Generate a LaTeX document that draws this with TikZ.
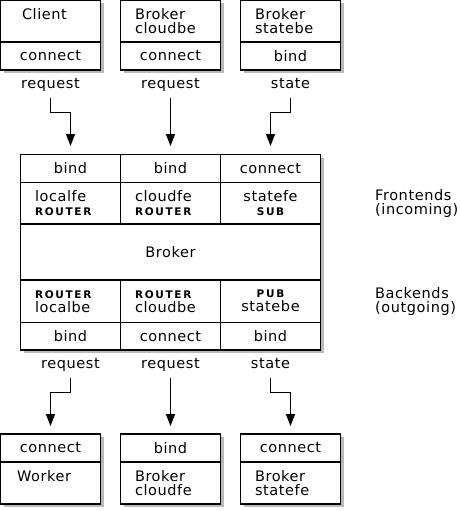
\documentclass[tikz,border=0pt]{standalone}
\usepackage{fontspec}
\setmainfont{DejaVu Sans}[LetterSpace=4]
\newfontfamily\capsfont{DejaVu Sans}[LetterSpace=16]
\usetikzlibrary{positioning,arrows.meta,shadows}

\newcommand{\socktype}[1]{{\capsfont\bfseries\fontsize{10.5}{14}\selectfont #1}}

\tikzset{
    cell/.style={draw, fill=white, line width=1.3pt, inner sep=0pt, outer sep=0pt,
        minimum width=100pt, align=left, text width=71pt,
        drop shadow={shadow xshift=3pt, shadow yshift=-3pt, fill=black!45, opacity=.6}},
    sockcell/.style={cell, align=center},
    msg/.style={inner sep=0pt, text height=10pt, text depth=3.5pt},
    flow/.style={line width=1.3pt, -{Triangle[length=12pt,width=9pt]}, shorten <=6.5pt},
}

\begin{document}
\begin{tikzpicture}[x=1pt, y=-1pt, font=\fontsize{14.5}{14}\selectfont]
    \useasboundingbox (0,0) rectangle (460,511);
    % peers that talk to the broker
    \node [cell, minimum height=41.5pt, text width=57pt] (client) at (50.5,21.25) {Client\\\mbox{}};
    \node [cell, minimum height=41.5pt, right=20pt of client] (cloudbeUp) {Broker\\cloudbe};
    \node [cell, minimum height=41.5pt, right=20pt of cloudbeUp] (statebeUp) {Broker\\statebe};
    \node [sockcell, minimum height=28pt, below=0pt of client] (clientSock) {connect};
    \node [sockcell, minimum height=28pt, below=0pt of cloudbeUp] (cloudbeSock) {connect};
    \node [sockcell, minimum height=28pt, below=0pt of statebeUp] (statebeSock) {bind};
    \node [msg, below=8pt of clientSock] (reqClient) {request};
    \node [msg, below=8pt of cloudbeSock] (reqCloud) {request};
    \node [msg, below=8pt of statebeSock] (stateUp) {state};
    % the broker
    \node [sockcell, minimum height=28pt, below right=84.5pt and 20pt of clientSock.south west] (bindL) {bind};
    \node [sockcell, minimum height=28pt, right=0pt of bindL] (bindC) {bind};
    \node [sockcell, minimum height=28pt, right=0pt of bindC] (connS) {connect};
    \node [cell, minimum height=41.5pt, below=0pt of bindL] (localfe) {localfe\\\socktype{ROUTER}};
    \node [cell, minimum height=41.5pt, below=0pt of bindC] (cloudfe) {cloudfe\\\socktype{ROUTER}};
    \node [sockcell, minimum height=41.5pt, below=0pt of connS] (statefe) {statefe\\\socktype{SUB}};
    \node [sockcell, minimum width=300pt, minimum height=56pt, below=0pt of cloudfe] (broker) {Broker};
    \node [cell, minimum height=42.5pt, below=0pt of broker.south west, anchor=north west] (localbe) {\socktype{ROUTER}\\localbe};
    \node [cell, minimum height=42.5pt, right=0pt of localbe] (cloudbe) {\socktype{ROUTER}\\cloudbe};
    \node [sockcell, minimum height=42.5pt, right=0pt of cloudbe] (statebe) {\socktype{PUB}\\statebe};
    \node [sockcell, minimum height=27.5pt, below=0pt of localbe] (bindLb) {bind};
    \node [sockcell, minimum height=27.5pt, below=0pt of cloudbe] (connCb) {connect};
    \node [sockcell, minimum height=27.5pt, below=0pt of statebe] (bindSb) {bind};
    \node [inner sep=0pt, align=left, right=54.5pt of statefe] (front) {Frontends\\(incoming)};
    \node [inner sep=0pt, align=left, right=54.5pt of statebe] (back) {Backends\\(outgoing)};
    \node [msg, below=8pt of bindLb] (reqLocal) {request};
    \node [msg, below=8pt of connCb] (reqCloudDn) {request};
    \node [msg, below=8pt of bindSb] (stateDn) {state};
    % peers the broker talks to
    \node [sockcell, minimum height=28pt, below=84pt of bindLb.south west, anchor=north west, xshift=-20pt] (workerSock) {connect};
    \node [sockcell, minimum height=28pt, right=20pt of workerSock] (cloudfeSock) {bind};
    \node [sockcell, minimum height=28pt, right=20pt of cloudfeSock] (statefeSock) {connect};
    \node [cell, minimum height=42pt, text width=67pt, below=0pt of workerSock] (worker) {Worker\\\mbox{}};
    \node [cell, minimum height=42pt, below=0pt of cloudfeSock] (cloudfeDn) {Broker\\cloudfe};
    \node [cell, minimum height=42pt, below=0pt of statefeSock] (statefeDn) {Broker\\statefe};
    % flows
    \draw [flow, shorten >=8.5pt] (reqClient.south) -- ++(0,20.5) -| (bindL.north);
    \draw [flow, shorten >=8.5pt] (reqCloud.south) -- (bindC.north);
    \draw [flow, shorten >=8.5pt] (stateUp.south) -- ++(0,20.5) -| (connS.north);
    \draw [flow, shorten >=8pt] (reqLocal.south) -- ++(0,20.5) -| (workerSock.north);
    \draw [flow, shorten >=8pt] (reqCloudDn.south) -- (cloudfeSock.north);
    \draw [flow, shorten >=8pt] (stateDn.south) -- ++(0,20.5) -| (statefeSock.north);
\end{tikzpicture}
\end{document}
